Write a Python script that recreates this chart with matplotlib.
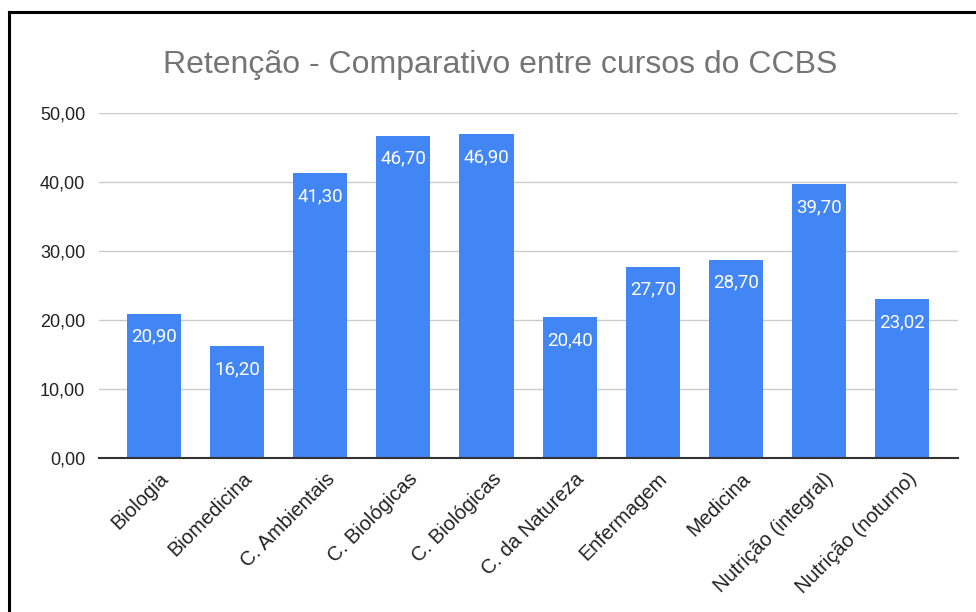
import matplotlib.pyplot as plt
from matplotlib.lines import Line2D
from matplotlib.transforms import ScaledTranslation

# data
cursos = ['Biologia', 'Biomedicina', 'C. Ambientais', 'C. Biológicas', 'C. Biológicas',
          'C. da Natureza', 'Enfermagem', 'Medicina', 'Nutrição (integral)', 'Nutrição (noturno)']
retencao = [20.90, 16.20, 41.30, 46.70, 46.90, 20.40, 27.70, 28.70, 39.70, 23.02]
yticks = [0, 10, 20, 30, 40, 50]

plt.rcParams['font.family'] = ['Liberation Sans', 'DejaVu Sans']

fig = plt.figure(figsize=(9.76, 6.12), dpi=100)
ax = fig.add_axes([99 / 976, 1 - 458 / 612, (958 - 99) / 976, (458 - 113) / 612])

x = range(len(cursos))
bars = ax.bar(x, retencao, width=0.65, color='#4285F4', zorder=3)

for xi, v in zip(x, retencao):
    ax.annotate(f'{v:.2f}'.replace('.', ','), (xi, v), xytext=(0, -10), textcoords='offset points',
                ha='center', va='top', color='white', fontsize=13.5, family=['Roboto', 'DejaVu Sans'],
                zorder=4)

ax.set_xlim(-0.66, 9.67)
ax.set_ylim(0, 50)
ax.set_yticks(yticks)
ax.set_yticklabels([f'{t:.2f}'.replace('.', ',') for t in yticks], fontsize=13, color='#222222')
ax.set_xticks(list(x))
ax.set_xticklabels(cursos, rotation=45, ha='right', rotation_mode='anchor', fontsize=14.5, color='#222222')
ax.tick_params(axis='both', length=0)
ax.tick_params(axis='y', pad=10)
ax.tick_params(axis='x', pad=8)
shift = ScaledTranslation(5 / 100, 0, fig.dpi_scale_trans)
for lbl in ax.get_xticklabels():
    lbl.set_transform(lbl.get_transform() + shift)

ax.grid(axis='y', color='#cccccc', linewidth=1, zorder=0)
for s in ['top', 'right', 'left']:
    ax.spines[s].set_visible(False)
ax.spines['bottom'].set_color('#333333')
ax.spines['bottom'].set_linewidth(1.5)
ax.spines['bottom'].set_zorder(5)

fig.text(0.512, 1 - 65 / 612, 'Retenção - Comparativo entre cursos do CCBS', ha='center', va='center',
         fontsize=23, color='#757575')

# black frame (left and top edges)
fig.add_artist(Line2D([9 / 976, 9 / 976], [0, 1 - 12 / 612], color='black', linewidth=2.2))
fig.add_artist(Line2D([9 / 976, 1], [1 - 12 / 612, 1 - 12 / 612], color='black', linewidth=2.2))

plt.savefig('out.png', dpi=100)
